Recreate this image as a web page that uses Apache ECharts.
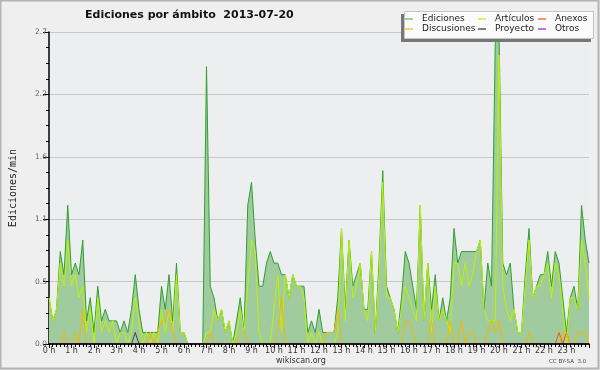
<!DOCTYPE html>
<html>
<head>
<meta charset="utf-8">
<script src="https://cdn.jsdelivr.net/npm/echarts@6/dist/echarts.min.js"></script>
<style>html,body{margin:0;padding:0;background:#efefef}#c{width:600px;height:370px}</style>
</head>
<body>
<div id="c"></div>
<script>
// 10-minute bins, index i -> hour i/6 (0 h .. 24 h)
const hourTicks = [0,1,2,3,4,5,6,7,8,9,10,11,12,13,14,15,16,17,18,19,20,21,22,23];
const ediciones = [
0.4,0.2,0.3,0.8,0.6,1.2,0.6,0.7,0.6,0.9,0.2,0.4,
0.1,0.5,0.2,0.3,0.2,0.2,0.2,0.1,0.2,0.1,0.3,0.6,
0.3,0.1,0.1,0.1,0.1,0.1,0.5,0.3,0.6,0.2,0.7,0.1,
0.1,0,0,0,0,0,2.4,0.5,0.4,0.2,0.3,0.1,
0.2,0.0,0.2,0.4,0.1,1.2,1.4,0.9,0.5,0.5,0.7,0.8,
0.7,0.7,0.6,0.6,0.4,0.6,0.5,0.5,0.5,0.1,0.2,0.1,
0.3,0.1,0.1,0.1,0.1,0.4,1.0,0.3,0.9,0.5,0.6,0.7,
0.3,0.3,0.8,0.1,0.7,1.5,0.5,0.4,0.3,0.1,0.4,0.8,
0.7,0.5,0.3,1.2,0.2,0.7,0.3,0.6,0.2,0.4,0.2,0.4,
1.0,0.7,0.8,0.8,0.8,0.8,0.8,0.9,0.3,0.7,0.5,2.6,
2.7,0.7,0.6,0.7,0.3,0.1,0.1,0.6,1.0,0.4,0.5,0.6,
0.6,0.8,0.5,0.8,0.7,0.4,0.1,0.4,0.5,0.3,1.2,0.9,
0.7];
const articulos = [
0.4,0.2,0.3,0.7,0.5,0.9,0.5,0.6,0.4,0.5,0.1,0.3,
0.0,0.4,0.1,0.2,0.1,0.2,0.0,0.1,0.1,0.0,0.1,0.4,
0.2,0.0,0.1,0.0,0.1,0.0,0.3,0.1,0.3,0.1,0.6,0.1,
0.1,0,0,0,0,0,0.1,0.1,0.3,0.2,0.3,0.1,
0.2,0.0,0.1,0.3,0.1,0.5,0.9,0.8,0.1,0.0,0.0,0.0,
0.3,0.6,0.1,0.6,0.4,0.6,0.5,0.5,0.4,0.0,0.1,0.0,
0.1,0.0,0.0,0.0,0.0,0.1,1.0,0.2,0.9,0.4,0.5,0.7,
0.3,0.2,0.8,0.1,0.6,1.4,0.4,0.4,0.3,0.1,0.3,0.5,
0.4,0.3,0.2,1.2,0.2,0.7,0.1,0.5,0.2,0.3,0.2,0.1,
0.7,0.7,0.5,0.7,0.5,0.6,0.8,0.9,0.3,0.2,0.2,0.2,
2.5,0.5,0.3,0.2,0.3,0.1,0.1,0.5,0.9,0.4,0.5,0.5,
0.6,0.7,0.4,0.7,0.6,0.3,0.0,0.4,0.4,0.3,0.9,0.7,
0.4];
const anexos = [
0,0,0,0,0,0,0,0,0,0,0,0, 0,0,0,0,0,0,0,0,0,0,0,0,
0,0,0,0,0,0,0,0,0,0,0,0, 0,0,0,0,0,0,0,0,0,0,0,0,
0,0,0,0,0,0,0,0,0,0,0,0, 0,0,0,0,0,0,0,0,0,0,0,0,
0,0,0,0,0,0,0,0,0,0,0,0, 0,0,0,0,0,0,0,0,0,0,0,0,
0,0,0,0,0,0,0,0,0,0,0,0, 0,0,0,0,0,0,0,0,0,0,0,0,
0,0,0,0,0,0,0,0,0,0,0,0, 0,0,0,0,0.1,0,0.1,0,0,0,0,0,
0];
const discusiones = [
0,0,0,0,0.1,0,0,0.1,0,0.3,0,0,
0,0,0,0,0,0,0,0,0,0,0,0,
0,0,0,0.1,0,0.1,0.2,0.2,0.3,0.1,0,0,
0,0,0,0,0,0,0,0.1,0,0,0,0,
0,0,0,0.1,0.1,0,0,0,0,0,0,0,
0,0.1,0.4,0,0,0,0,0,0,0,0,0,
0,0,0.1,0.1,0.1,0.3,0,0,0,0,0,0,
0,0,0,0,0,0,0,0,0,0,0,0.2,
0.2,0.1,0,0,0,0,0.2,0,0,0,0,0.2,
0,0,0.2,0,0.1,0.1,0,0,0,0.1,0.2,0.1,
0.2,0,0,0,0,0,0,0,0.1,0,0,0,
0,0,0,0,0,0.1,0.1,0,0,0.1,0.1,0.1,
0];
const proyecto = [
0,0,0,0,0,0,0,0,0,0,0,0, 0,0,0,0,0,0,0,0,0,0,0,0.1,
0,0,0,0,0,0,0,0,0,0,0,0, 0,0,0,0,0,0,0,0,0,0,0,0,
0,0,0,0,0,0,0,0,0,0,0,0, 0,0,0,0,0,0,0,0,0,0,0,0,
0,0,0,0,0,0,0,0,0,0,0,0, 0,0,0,0,0,0,0,0,0,0,0,0,
0,0,0,0,0,0,0,0,0,0,0,0, 0,0,0,0,0,0,0,0,0,0,0,0,
0,0,0,0,0,0,0,0,0,0,0,0, 0,0,0,0,0,0,0,0,0,0,0,0,
0];
const otros = [
0,0,0,0,0,0,0,0,0,0,0,0, 0,0,0,0,0,0,0,0,0,0,0,0,
0,0,0,0,0,0,0,0,0,0,0,0, 0,0,0,0,0,0,0,0,0,0,0,0,
0,0,0,0,0,0,0,0,0,0,0,0, 0,0,0,0,0,0,0,0,0,0,0,0,
0,0,0,0,0,0,0,0,0,0,0,0, 0,0,0,0,0,0,0,0,0,0,0,0,
0,0,0,0,0,0,0,0,0,0,0,0, 0,0,0,0,0,0,0,0,0,0,0,0,
0,0,0,0,0,0,0,0,0,0,0,0, 0,0,0,0,0,0,0,0,0,0,0,0,
0];
const yTicks = [0, 0.54, 1.08, 1.62, 2.16, 2.7];

const toPairs = arr => arr.map((v, i) => [i / 6, v]);
const FONT = 'DejaVu Sans';

function mkLine(name, arr, color, extra) {
  return Object.assign({
    name, type: 'line', data: toPairs(arr), showSymbol: false, symbol: 'none',
    color: color, lineStyle: { color: color, width: 1 }, animation: false
  }, extra || {});
}

function legendCol(left, items) {
  return {
    left: left, top: 14, orient: 'vertical', itemGap: 0, padding: 0,
    itemWidth: 8, itemHeight: 1.5, icon: 'rect', z: 20,
    selectedMode: false,
    textStyle: { fontFamily: FONT, fontSize: 9, color: '#222', lineHeight: 10, padding: [0,0,0,4] },
    data: items
  };
}

const chart = echarts.init(document.getElementById('c'), null, { renderer: 'canvas' });
chart.setOption({
  backgroundColor: '#efefef',
  animation: false,
  title: {
    text: 'Ediciones por ámbito  2013-07-20',
    left: 80, top: 5,
    textStyle: { fontFamily: FONT, fontSize: 11, fontWeight: 'bold', color: '#111' }
  },
  grid: { left: 46, right: 11, top: 32, bottom: 26, show: true, backgroundColor: '#eceef0', borderWidth: 0 },
  legend: [
    legendCol(405, [{ name: 'Ediciones', itemStyle: { color: '#7cc87c' } }, { name: 'Discusiones', itemStyle: { color: '#f2c744' } }]),
    legendCol(478, [{ name: 'Artículos', itemStyle: { color: '#c9ee55' } }, { name: 'Proyecto', itemStyle: { color: '#555' } }]),
    legendCol(538, [{ name: 'Anexos', itemStyle: { color: '#ee7744' } }, { name: 'Otros', itemStyle: { color: '#9a4de8' } }])
  ],
  xAxis: {
    type: 'value', min: 0, max: 24, interval: 1, z: 5,
    axisLine: { lineStyle: { color: '#000', width: 1.5 } },
    axisTick: { show: true, length: 4, lineStyle: { color: '#000' } },
    minorTick: { show: true, splitNumber: 6, length: 3, lineStyle: { color: '#000' } },
    splitLine: { show: false },
    axisLabel: {
      fontFamily: FONT, fontSize: 8, color: '#333', margin: 3, showMaxLabel: false,
      formatter: v => (hourTicks.indexOf(v) >= 0 ? v + ' h' : '')
    }
  },
  yAxis: {
    type: 'value', min: yTicks[0], max: yTicks[yTicks.length - 1], interval: yTicks[1],
    name: 'Ediciones/min', nameLocation: 'middle', nameGap: 31, nameRotate: 90,
    nameTextStyle: { fontFamily: 'DejaVu Sans Mono', fontSize: 10, color: '#222' },
    axisLine: { show: true, lineStyle: { color: '#000', width: 1.5 } },
    axisTick: { show: true, length: 6, lineStyle: { color: '#000' } },
    minorTick: { show: true, splitNumber: 4, length: 3, lineStyle: { color: '#000' } },
    splitLine: { show: true, lineStyle: { color: '#c8c8c8', width: 1 } },
    axisLabel: { fontFamily: FONT, fontSize: 7.5, color: '#666', margin: 2, formatter: v => v.toFixed(1) }
  },
  series: [
    mkLine('Ediciones', ediciones, '#2fa02f', { areaStyle: { color: '#9fcb9f', opacity: 1 } }),
    mkLine('Artículos', articulos, '#bff200'),
    mkLine('Anexos', anexos, '#ee5522'),
    mkLine('Discusiones', discusiones, '#f5b800'),
    mkLine('Proyecto', proyecto, '#444444'),
    mkLine('Otros', otros, '#8a2be2')
  ],
  graphic: [
    { type: 'rect', z: 1, silent: true, shape: { x: 0.5, y: 0.5, width: 598, height: 368 },
      style: { fill: 'none', stroke: '#b4b4b4', lineWidth: 2 } },
    { type: 'rect', z: 10, silent: true, shape: { x: 401, y: 14, width: 190, height: 28 },
      style: { fill: '#777' } },
    { type: 'rect', z: 11, silent: true, shape: { x: 404.5, y: 11.5, width: 189, height: 27 },
      style: { fill: '#fbfbfb', stroke: '#c4c4c4', lineWidth: 1 } },
    { type: 'text', z: 11, silent: true, left: 276, top: 357,
      style: { text: 'wikiscan.org', fontFamily: FONT, fontSize: 8, fill: '#333' } },
    { type: 'text', z: 11, silent: true, left: 549, top: 359,
      style: { text: 'CC BY-SA  3.0', fontFamily: FONT, fontSize: 5.5, fill: '#444' } }
  ]
});
</script>
</body>
</html>
